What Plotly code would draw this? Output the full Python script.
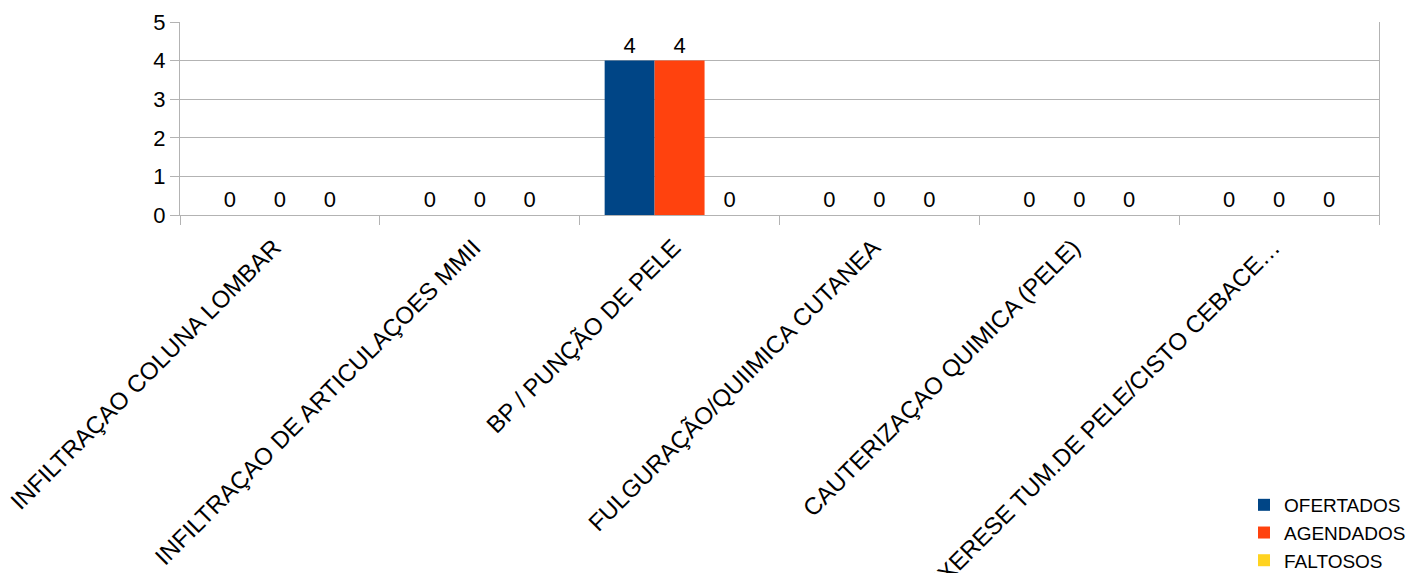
import plotly.graph_objects as go

categories = [
    "INFILTRAÇAO COLUNA LOMBAR",
    "INFILTRAÇAO DE ARTICULAÇOES MMII",
    "BP / PUNÇÃO DE PELE",
    "FULGURAÇÃO/QUIIMICA CUTANEA",
    "CAUTERIZAÇAO QUIMICA (PELE)",
    "EXERESE TUM.DE PELE/CISTO CEBACE…",
]
ofertados = [0, 0, 4, 0, 0, 0]
agendados = [0, 0, 4, 0, 0, 0]
faltosos = [0, 0, 0, 0, 0, 0]

series = [
    ("OFERTADOS", ofertados, "#004586"),
    ("AGENDADOS", agendados, "#ff420e"),
    ("FALTOSOS", faltosos, "#ffd320"),
]

FONT = "Liberation Sans, Arial, sans-serif"

fig = go.Figure()
for name, vals, color in series:
    fig.add_trace(go.Bar(
        name=name, x=categories, y=vals,
        marker=dict(color=color, line=dict(width=0)),
        text=vals, textposition="outside", cliponaxis=False,
        textfont=dict(family=FONT, size=22, color="#000000"),
    ))

fig.update_layout(
    width=1420, height=573,
    margin=dict(l=172, r=49, t=14, b=366, autoexpand=False),
    paper_bgcolor="white", plot_bgcolor="white",
    barmode="group", bargap=0.25, bargroupgap=0,
    font=dict(family=FONT, color="#000000"),
    legend=dict(
        x=0.8874, xanchor="left", y=-1.404, yanchor="top",
        font=dict(family=FONT, size=19, color="#000000"),
        bgcolor="rgba(0,0,0,0)", tracegroupgap=0,
    ),
    xaxis=dict(
        tickangle=-45, tickson="boundaries", ticks="outside", ticklen=9,
        tickcolor="#b3b3b3", showline=True, linecolor="#b3b3b3", linewidth=1,
        showgrid=False, tickfont=dict(family=FONT, size=24, color="#000000"),
        ticklabelstandoff=8, ticklabelshift=-6,
        automargin=False,
    ),
    yaxis=dict(
        range=[0, 5], dtick=1, ticks="outside", ticklen=9, tickcolor="#b3b3b3",
        showline=True, linecolor="#b3b3b3", linewidth=1, mirror=True,
        gridcolor="#b3b3b3", gridwidth=1, zeroline=False,
        tickfont=dict(family=FONT, size=22, color="#000000"),
        automargin=False,
    ),
)

fig.write_html("out.html")
